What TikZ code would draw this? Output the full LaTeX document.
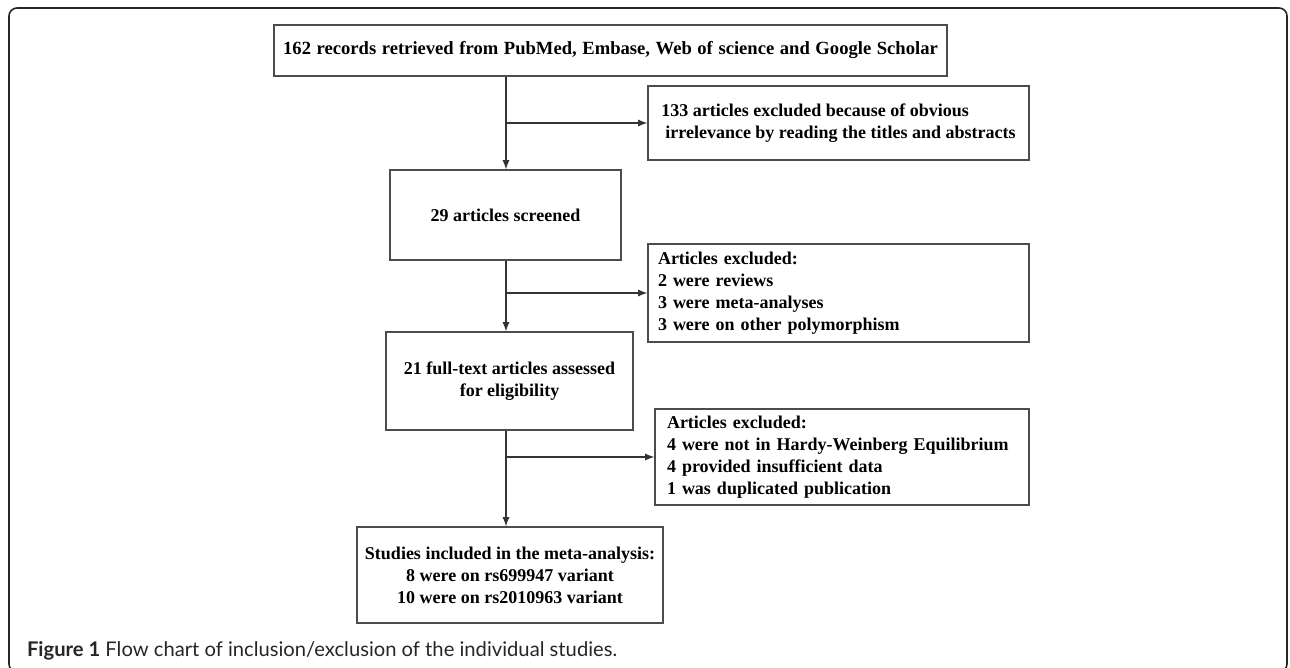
\documentclass[tikz,border=0pt]{standalone}
\usepackage{fontspec}
\setmainfont{Liberation Serif}
\newfontfamily\capfont{Lato}
\usepackage{tikz}
\usetikzlibrary{calc}

\begin{document}
\begin{tikzpicture}[x=0.5pt, y=-0.5pt,
    box/.style={draw=black!70, line width=0.6pt, inner sep=0pt,
        font=\bfseries\fontsize{9}{11}\selectfont},
    flow/.style={draw=black!80, line width=0.6pt, -latex}]
    \useasboundingbox (0,0) rectangle (1290,668);
    \draw[black!85, line width=0.8pt, rounded corners=4pt] (9,8) rectangle (1287,672);

    \coordinate (sp) at (506,0);

    \node[box, minimum width=336.5pt, minimum height=25.5pt] (rec) at (610.5,50.5)
        {\fontsize{9.3}{11}\selectfont\spaceskip=2.8pt plus 1pt 162 records retrieved from PubMed, Embase, Web of science and Google Scholar};
    \node[box, minimum width=190.5pt, minimum height=37pt, align=left] (irr) at (838.5,123)
        {133 articles excluded because of obvious\\\hspace*{2pt}irrelevance by reading the titles and abstracts};
    \node[box, minimum width=115.5pt, minimum height=45pt] (scr) at (505.5,215)
        {29 articles screened};
    \node[box, text width=180.5pt, inner xsep=5pt, minimum height=49pt, align=left] (exa) at (838.5,293)
        {Articles excluded:\\2 were reviews\\3 were meta-analyses\\3 were on other polymorphism};
    \node[box, minimum width=123.5pt, minimum height=49pt, align=center] (full) at (509.5,381)
        {21 full-text articles assessed\\for eligibility};
    \node[box, text width=175pt, inner xsep=6pt, minimum height=48pt, align=left] (exb) at (842,457)
        {Articles excluded:\\4 were not in Hardy-Weinberg Equilibrium\\4 provided insufficient data\\1 was duplicated publication};
    \node[box, minimum width=153pt, minimum height=48pt, align=center] (incl) at (510,575)
        {Studies included in the meta-analysis:\\8 were on rs699947 variant\\10 were on rs2010963 variant};

    \draw[flow] (rec.south -| sp) -- (scr.north -| sp);
    \draw[flow] (sp |- irr.west) -- (irr.west);
    \draw[flow] (scr.south -| sp) -- (full.north -| sp);
    \draw[flow] (sp |- exa.west) -- (exa.west);
    \draw[flow] (full.south -| sp) -- (incl.north -| sp);
    \draw[flow] (sp |- exb.west) -- (exb.west);

    \node[anchor=base west, text=black!85, font=\capfont\fontsize{10.1}{12}\selectfont] (cap) at (20,656)
        {\textbf{Figure 1} Flow chart of inclusion/exclusion of the individual studies.};
\end{tikzpicture}
\end{document}
